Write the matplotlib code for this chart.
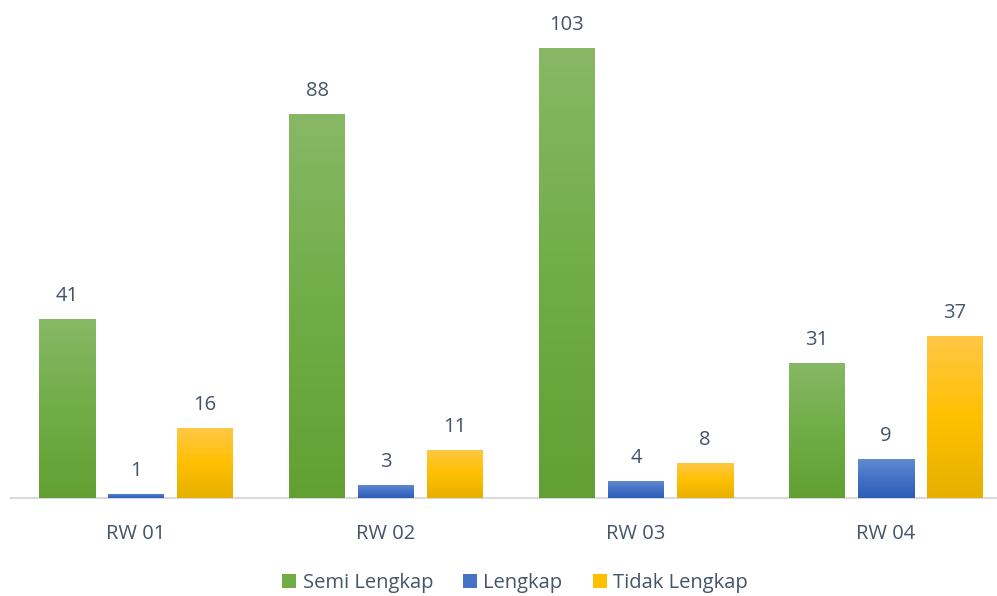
import numpy as np
import matplotlib
matplotlib.use("Agg")
import matplotlib.pyplot as plt
from matplotlib.colors import LinearSegmentedColormap
from matplotlib.patches import Patch

categories = ["RW 01", "RW 02", "RW 03", "RW 04"]
series_names = ["Semi Lengkap", "Lengkap", "Tidak Lengkap"]
semi_lengkap = [41, 88, 103, 31]
lengkap = [1, 3, 4, 9]
tidak_lengkap = [16, 11, 8, 37]
values = [semi_lengkap, lengkap, tidak_lengkap]

# gradient stops (top, middle, bottom)
grad_colors = [
    ["#88B866", "#70AD47", "#62A033"],
    ["#628BD2", "#4472C4", "#2E5DB9"],
    ["#FFC746", "#FFC000", "#E6B000"],
]
base_colors = ["#70AD47", "#4472C4", "#FFC000"]
text_color = "#44546A"

plt.rcParams['font.family'] = ['Open Sans', 'DejaVu Sans']

W, H = 997, 596
fig = plt.figure(figsize=(W / 100, H / 100), dpi=100)
left_px, right_px = 11, 1011
bottom_px = 498
ymax = 110
px_per_unit = 450 / 103.0
top_px = bottom_px - ymax * px_per_unit
ax = fig.add_axes([left_px / W, (H - bottom_px) / H,
                   (right_px - left_px) / W, (bottom_px - top_px) / H])
ax.set_xlim(-0.5, 3.5)
ax.set_ylim(0, ymax)

bar_w = 0.224
offset = 0.276
x = np.arange(len(categories))
for s, vals in enumerate(values):
    cmap = LinearSegmentedColormap.from_list(f"g{s}", grad_colors[s])
    xs = x + (s - 1) * offset
    bars = ax.bar(xs, vals, width=bar_w, color=base_colors[s], zorder=2)
    for b, v in zip(bars, vals):
        x0 = b.get_x()
        grad = np.linspace(0, 1, 256).reshape(-1, 1)
        im = ax.imshow(grad, cmap=cmap, aspect='auto',
                       extent=[x0, x0 + bar_w, 0, v], origin='upper', zorder=3)
        im.set_clip_path(b)
        ax.text(b.get_x() + bar_w / 2, v + 23 / px_per_unit, str(v),
                ha='center', va='center', fontsize=14.5, color=text_color)

ax.set_xlim(-0.5, 3.5)
ax.set_ylim(0, ymax)
for sp in ["top", "right", "left"]:
    ax.spines[sp].set_visible(False)
ax.spines["bottom"].set_color("#D9D9D9")
ax.spines["bottom"].set_linewidth(1.5)
ax.set_yticks([])
ax.set_xticks(x)
ax.set_xticklabels(categories, fontsize=14.5, color=text_color)
ax.tick_params(axis='x', length=0, pad=19)

handles = [Patch(facecolor=c, edgecolor='none') for c in base_colors]
fig.legend(handles, series_names, loc='center', bbox_to_anchor=(515 / W, 1 - 583 / H),
           ncol=3, frameon=False, fontsize=14.5, labelcolor=text_color,
           handlelength=0.7, handleheight=0.7, handletextpad=0.3, columnspacing=1.5)

fig.savefig("out.png", dpi=100)
